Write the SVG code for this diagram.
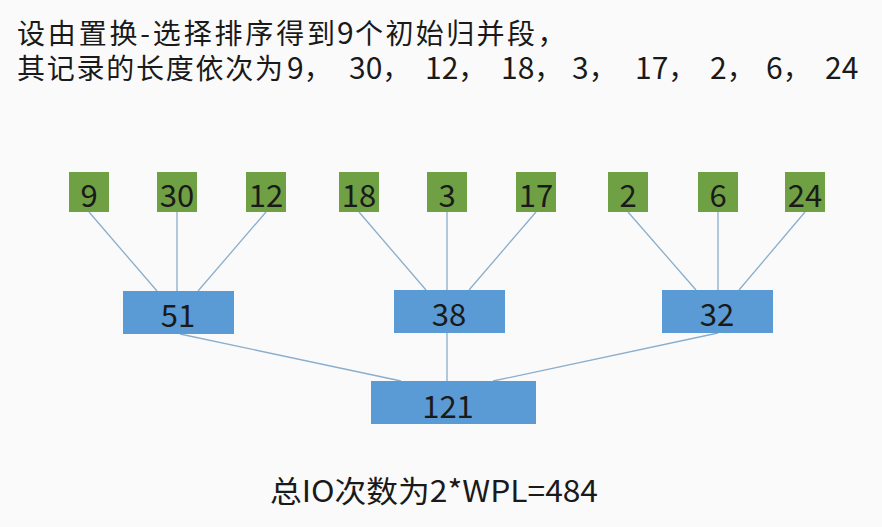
<svg xmlns="http://www.w3.org/2000/svg" width="882" height="527" viewBox="0 0 882 527">
  <style>
    text { font-family: "Noto Sans CJK SC", "Noto Sans", sans-serif; fill: #1a1a1a; }
    .title { font-size: 28px; }
    .num { font-size: 30px; }
    .cm { font-size: 28px; }
    .lbl { font-size: 31px; text-anchor: middle; dominant-baseline: central; }
    .leaf { fill: #70a044; }
    .merge { fill: #5b9bd5; }
    .edge { stroke: #8aaecb; stroke-width: 1.3; fill: none; }
  </style>
  <rect width="882" height="527" fill="#fafafa"/>

  <!-- heading, line 1 -->
  <text class="title" x="17" y="44" textLength="318" lengthAdjust="spacing">设由置换-选择排序得到</text>
  <text class="num" x="337" y="44">9</text>
  <text class="title" x="355" y="44"><tspan textLength="180" lengthAdjust="spacing">个初始归并段</tspan>，</text>

  <!-- heading, line 2 -->
  <text class="title" x="17" y="79" textLength="266" lengthAdjust="spacing">其记录的长度依次为</text>
  <text class="num" x="287" y="79">9<tspan class="cm">，</tspan></text>
  <text class="num" x="349" y="79">30<tspan class="cm">，</tspan></text>
  <text class="num" x="425" y="79">12<tspan class="cm">，</tspan></text>
  <text class="num" x="501" y="79">18<tspan class="cm">，</tspan></text>
  <text class="num" x="572" y="79">3<tspan class="cm">，</tspan></text>
  <text class="num" x="635" y="79">17<tspan class="cm">，</tspan></text>
  <text class="num" x="710" y="79">2<tspan class="cm">，</tspan></text>
  <text class="num" x="766" y="79">6<tspan class="cm">，</tspan></text>
  <text class="num" x="825" y="79">24</text>

  <g id="connectors">
    <line class="edge" x1="89" y1="212" x2="157" y2="291"/>
    <line class="edge" x1="177" y1="212" x2="177" y2="291"/>
    <line class="edge" x1="266" y1="212" x2="198" y2="291"/>
    <line class="edge" x1="359" y1="212" x2="426" y2="290"/>
    <line class="edge" x1="447" y1="212" x2="447" y2="290"/>
    <line class="edge" x1="536" y1="212" x2="469" y2="290"/>
    <line class="edge" x1="628" y1="212" x2="696" y2="290"/>
    <line class="edge" x1="718" y1="212" x2="718" y2="290"/>
    <line class="edge" x1="805" y1="212" x2="739" y2="290"/>
    <line class="edge" x1="180" y1="334" x2="401" y2="381"/>
    <line class="edge" x1="447" y1="333" x2="447" y2="381"/>
    <line class="edge" x1="718" y1="333" x2="493" y2="381"/>
  </g>

  <g id="leaf-9"><rect class="leaf" x="69" y="172" width="40" height="40"/><text class="lbl" x="89" y="193">9</text></g>
  <g id="leaf-30"><rect class="leaf" x="157" y="172" width="40" height="40"/><text class="lbl" x="177" y="193">30</text></g>
  <g id="leaf-12"><rect class="leaf" x="246" y="172" width="40" height="40"/><text class="lbl" x="266" y="193">12</text></g>
  <g id="leaf-18"><rect class="leaf" x="339" y="172" width="40" height="40"/><text class="lbl" x="359" y="193">18</text></g>
  <g id="leaf-3"><rect class="leaf" x="427" y="172" width="40" height="40"/><text class="lbl" x="447" y="193">3</text></g>
  <g id="leaf-17"><rect class="leaf" x="516" y="172" width="40" height="40"/><text class="lbl" x="536" y="193">17</text></g>
  <g id="leaf-2"><rect class="leaf" x="608" y="172" width="40" height="40"/><text class="lbl" x="628" y="193">2</text></g>
  <g id="leaf-6"><rect class="leaf" x="698" y="172" width="40" height="40"/><text class="lbl" x="718" y="193">6</text></g>
  <g id="leaf-24"><rect class="leaf" x="785" y="172" width="40" height="40"/><text class="lbl" x="805" y="193">24</text></g>

  <g id="merge-51"><rect class="merge" x="123" y="291" width="111" height="43"/><text class="lbl" x="178" y="313">51</text></g>
  <g id="merge-38"><rect class="merge" x="394" y="290" width="111" height="43"/><text class="lbl" x="449" y="312">38</text></g>
  <g id="merge-32"><rect class="merge" x="662" y="290" width="111" height="43"/><text class="lbl" x="717" y="312">32</text></g>
  <g id="merge-121"><rect class="merge" x="371" y="381" width="165" height="43"/><text class="lbl" x="448" y="404">121</text></g>

  <text x="270" y="502" font-size="30" textLength="328" lengthAdjust="spacingAndGlyphs">总IO次数为2*WPL=484</text>
</svg>
